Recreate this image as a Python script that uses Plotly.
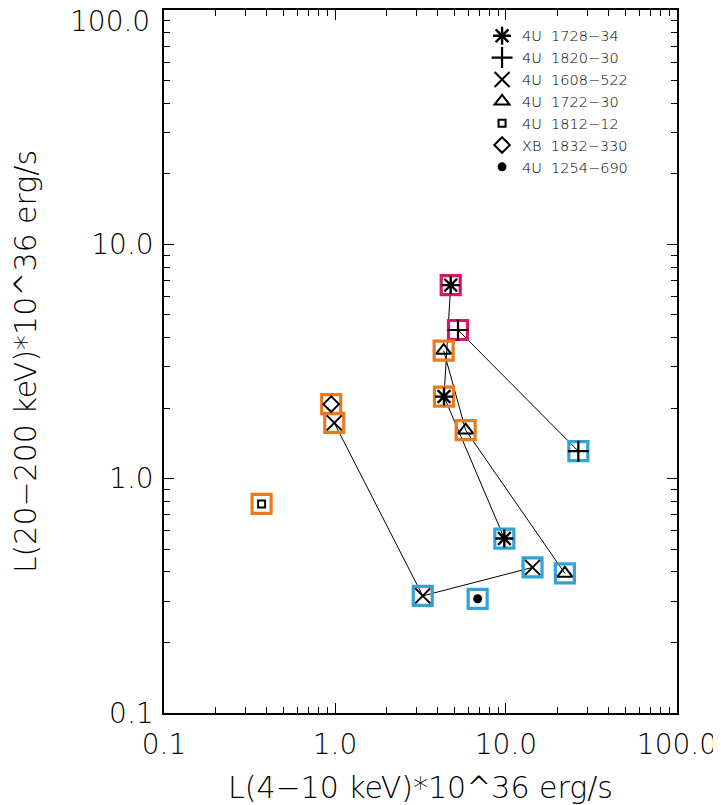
import plotly.graph_objects as go

# ---------------- data ----------------
sources = ["4U 1728-34", "4U 1820-30", "4U 1608-522", "4U 1722-30",
           "4U 1812-12", "XB 1832-330", "4U 1254-690"]
legend_labels = ["4U  1728\u221234", "4U  1820\u221230", "4U  1608\u2212522",
                 "4U  1722\u221230", "4U  1812\u221212", "XB  1832\u2212330",
                 "4U  1254\u2212690"]

x_1728 = [4.75, 4.34, 9.78]
y_1728 = [6.7, 2.24, 0.555]
s_1728 = ["pink", "orange", "blue"]

x_1820 = [5.24, 26.5]
y_1820 = [4.31, 1.31]
s_1820 = ["pink", "blue"]

x_1608 = [0.99, 3.26, 14.3]
y_1608 = [1.73, 0.316, 0.418]
s_1608 = ["orange", "blue", "blue"]

x_1722 = [4.32, 5.81, 22.1]
y_1722 = [3.52, 1.61, 0.394]
s_1722 = ["orange", "orange", "blue"]

x_1812 = [0.372]
y_1812 = [0.78]
s_1812 = ["orange"]

x_1832 = [0.95]
y_1832 = [2.08]
s_1832 = ["orange"]

x_1254 = [6.83]
y_1254 = [0.307]
s_1254 = ["blue"]

tick_vals = [0.1, 1, 10, 100]
tick_text = ["0.1", "1.0", "10.0", "100.0"]
minor_vals = [0.2, 0.3, 0.4, 0.5, 0.6, 0.7, 0.8, 0.9,
              2, 3, 4, 5, 6, 7, 8, 9,
              20, 30, 40, 50, 60, 70, 80, 90]

x_title = "L(4\u221210 keV)*10^36 erg/s"
y_title = "L(20\u2212200 keV)*10^36 erg/s"

# ---------------- styles ----------------
FONT = "DejaVu Sans"
state_colors = {"pink": "#d9166a", "orange": "#ea7a1e", "blue": "#33a2d4"}
sym = {
    "4U 1728-34": ("asterisk-open", 15, 2.4),
    "4U 1820-30": ("cross-thin-open", 15, 2.2),
    "4U 1608-522": ("x-thin-open", 15, 2.0),
    "4U 1722-30": ("triangle-up-open", 13, 2.0),
    "4U 1812-12": ("square-open", 7, 2.0),
    "XB 1832-330": ("diamond-open", 12, 2.0),
    "4U 1254-690": ("circle", 9, 0),
}

series = [
    ("4U 1728-34", x_1728, y_1728, s_1728),
    ("4U 1820-30", x_1820, y_1820, s_1820),
    ("4U 1608-522", x_1608, y_1608, s_1608),
    ("4U 1722-30", x_1722, y_1722, s_1722),
    ("4U 1812-12", x_1812, y_1812, s_1812),
    ("XB 1832-330", x_1832, y_1832, s_1832),
    ("4U 1254-690", x_1254, y_1254, s_1254),
]

fig = go.Figure()

# connecting lines
for name, xs, ys, st in series:
    if len(xs) > 1:
        fig.add_trace(go.Scatter(x=xs, y=ys, mode="lines",
                                 line=dict(color="black", width=1),
                                 showlegend=False, hoverinfo="skip"))

# coloured state squares
for name, xs, ys, st in series:
    fig.add_trace(go.Scatter(
        x=xs, y=ys, mode="markers", showlegend=False, hoverinfo="skip",
        marker=dict(symbol="square-open", size=19,
                    color=[state_colors[s] for s in st],
                    line=dict(width=3.2, color=[state_colors[s] for s in st]))))

# source symbols
for (name, xs, ys, st), lab in zip(series, legend_labels):
    symbol, size, lw = sym[name]
    fig.add_trace(go.Scatter(
        x=xs, y=ys, mode="markers", name=lab, showlegend=False,
        marker=dict(symbol=symbol, size=size, color="black",
                    line=dict(width=lw, color="black"))))

# legend entries
for (name, xs, ys, st), lab in zip(series, legend_labels):
    symbol, size, lw = sym[name]
    fig.add_trace(go.Scatter(
        x=[None], y=[None], mode="markers", name=lab, showlegend=True,
        marker=dict(symbol=symbol, size=size, color="black",
                    line=dict(width=lw, color="black"))))

tick_font = dict(family=FONT, size=28, color="black", weight=300)

axis_common = dict(
    type="log", tickmode="array", tickvals=tick_vals,
    range=[-1.0003, 2.0003], automargin=False, ticklabeloverflow="allow",
    showgrid=False, zeroline=False, showline=True, linecolor="black",
    linewidth=1.5, mirror="ticks", ticks="inside", ticklen=10,
    tickwidth=1.2, tickcolor="black",
    tickfont=tick_font,
    minor=dict(tickmode="array", tickvals=minor_vals, ticks="inside",
               ticklen=6, tickwidth=1.2, tickcolor="black", showgrid=False),
)

fig.update_xaxes(title=dict(text=x_title, standoff=18,
                 font=dict(family=FONT, size=30, color="black", weight=300)),
                 ticktext=tick_text, ticklabelstandoff=6, **axis_common)
# top y label is drawn as an annotation slightly below its tick (as in the original)
fig.update_yaxes(title=dict(text=y_title, standoff=54,
                 font=dict(family=FONT, size=30, color="black", weight=300)),
                 ticktext=tick_text[:-1] + [""], ticklabelstandoff=3,
                 **axis_common)

fig.add_annotation(x=0, xref="paper", y=2, yref="y", text=tick_text[-1],
                   showarrow=False, xanchor="right", yanchor="middle",
                   xshift=-13, yshift=-11, borderpad=0, font=tick_font)

fig.update_layout(
    width=713, height=797,
    margin=dict(l=156, r=44, t=2, b=92),
    paper_bgcolor="white", plot_bgcolor="white",
    showlegend=True,
    legend=dict(x=0.62, y=0.986, xanchor="left", yanchor="top",
                bgcolor="rgba(0,0,0,0)", borderwidth=0,
                font=dict(family=FONT, size=14.5, color="black", weight=300),
                itemwidth=30, tracegroupgap=0),
    font=dict(family=FONT, color="black"),
)

fig.write_html("out.html")
